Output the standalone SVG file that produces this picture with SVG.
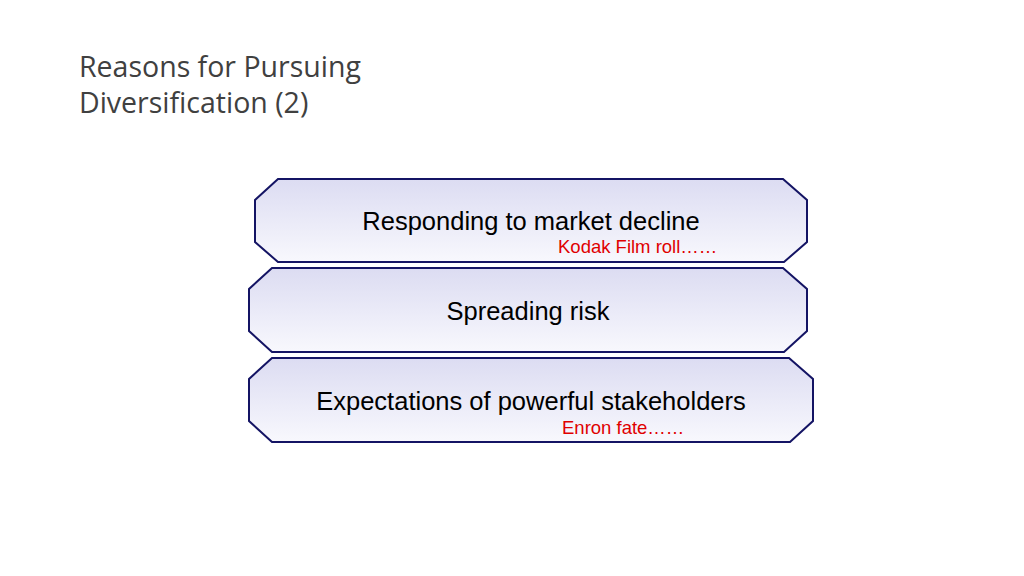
<svg xmlns="http://www.w3.org/2000/svg" width="1024" height="576" viewBox="0 0 1024 576">
<style>
.box{stroke:#141464;stroke-width:2;fill:url(#g)}
.t{font-family:"Liberation Sans",Arial,sans-serif;font-size:25.5px;fill:#000;text-anchor:middle}
.r{font-family:"Liberation Sans",Arial,sans-serif;font-size:18.5px;fill:#e00000}
.h{font-family:"Open Sans","Noto Sans",sans-serif;font-size:28.5px;fill:#404040}
</style>
<defs><linearGradient id="g" x1="0" y1="0" x2="0" y2="1"><stop offset="0" stop-color="#dcdcf2"/><stop offset="1" stop-color="#f8f8fd"/></linearGradient></defs>
<rect width="1024" height="576" fill="#fff"/>
<text class="h" x="79" y="77">Reasons for Pursuing</text>
<text class="h" x="79" y="113">Diversification (2)</text>
<g id="n1"><polygon class="box" points="278,179 783,179 807,200 807,242 784,262 278,262 255,242 255,200"/>
<text class="t" x="531" y="230">Responding to market decline</text>
<text class="r" x="558" y="253">Kodak Film roll……</text></g>
<g id="n2"><polygon class="box" points="272,268 783,268 807,289 807,331 784,352 272,352 249,331 249,289"/>
<text class="t" x="528" y="320">Spreading risk</text></g>
<g id="n3"><polygon class="box" points="272,358 789,358 813,379 813,421 790,442 272,442 249,421 249,379"/>
<text class="t" x="531" y="410">Expectations of powerful stakeholders</text>
<text class="r" x="562" y="434">Enron fate……</text></g>
<g id="connectors"/>
</svg>
